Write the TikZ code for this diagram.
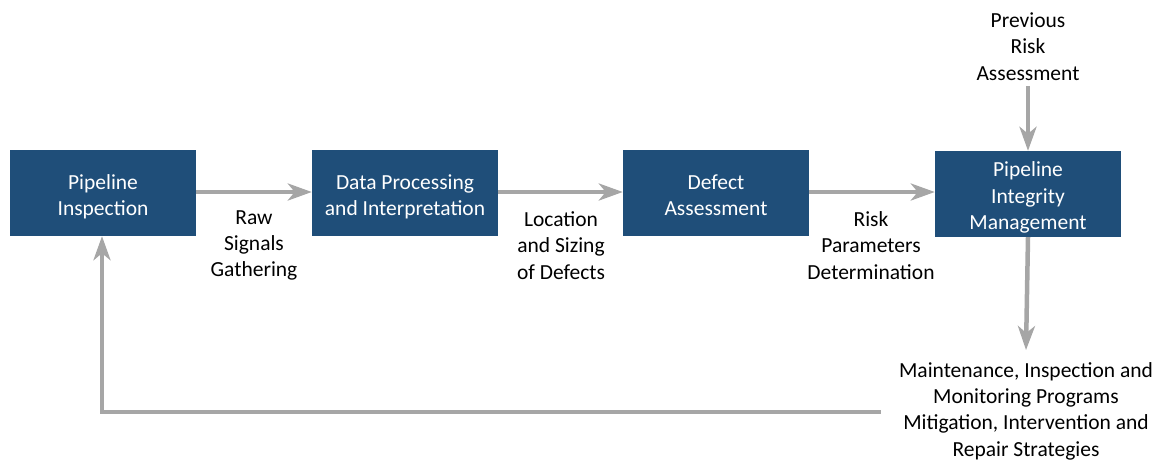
\documentclass[tikz,border=0pt]{standalone}
\usepackage{fontspec}
\setmainfont{Carlito}
\usetikzlibrary{arrows.meta,positioning}
\definecolor{boxblue}{RGB}{31,78,121}
\definecolor{flowgray}{RGB}{166,166,166}
% box text, set a little below the box centre
\newcommand{\stagetext}[1]{\raisebox{-4pt}[\height][\depth]{\begin{tabular}{@{}c@{}}#1\end{tabular}}}
\tikzset{
  stagebox/.style={fill=boxblue, draw=none, text=white, minimum width=186pt,
    minimum height=86pt, inner sep=0pt,
    font=\fontsize{21.5}{26.3}\selectfont},
  caption/.style={align=center, inner sep=0pt, text=black,
    font=\fontsize{21.5}{26.3}\selectfont},
  flow/.style={draw=flowgray, line width=4.5pt,
    -{Stealth[length=24pt,width=17pt,inset=7pt]}}
}
\begin{document}
\begin{tikzpicture}[x=1pt,y=-1pt]
  \useasboundingbox (0,0) rectangle (1162,461);

  % main stages
  \node[stagebox] (insp) at (103,193) {\stagetext{Pipeline\\Inspection}};
  \node[stagebox] (proc) at (405,193) {\stagetext{Data Processing\\and Interpretation}};
  \node[stagebox] (defect) at (716,193) {\stagetext{Defect\\Assessment}};
  \node[stagebox] (pim) at (1028,194) {\stagetext{Pipeline\\Integrity\\Management}};

  % labels between the stages
  \node[caption] (raw) at (254,245.5) {Raw\\Signals\\Gathering};
  \node[caption] (loc) at (561,245.5) {Location\\and Sizing\\of Defects};
  \node[caption] (risk) at (871,245.5) {Risk\\Parameters\\Determination};

  % input and output of integrity management
  \node[caption, inner ysep=6pt] (prev) at (1028,46.5) {Previous\\Risk\\Assessment};
  \node[caption, inner xsep=18pt, inner ysep=12pt] (out) at (1026,411)
    {Maintenance, Inspection and\\Monitoring Programs\\Mitigation, Intervention and\\Repair Strategies};

  % flow connectors
  \draw[flow] (insp.east |- 0,192) -- (proc.west |- 0,192);
  \draw[flow] (proc.east |- 0,192) -- (defect.west |- 0,192);
  \draw[flow] (defect.east |- 0,192) -- (pim.west |- 0,192);
  \draw[flow] (prev.south) -- (pim.north);
  \draw[flow] (pim.south) -- (out.north);

  % feedback loop back to inspection
  \coordinate (loopcorner) at (102,412);
  \draw[flow] (out.west |- loopcorner) -- (loopcorner) -- (insp.south -| loopcorner);
\end{tikzpicture}
\end{document}
